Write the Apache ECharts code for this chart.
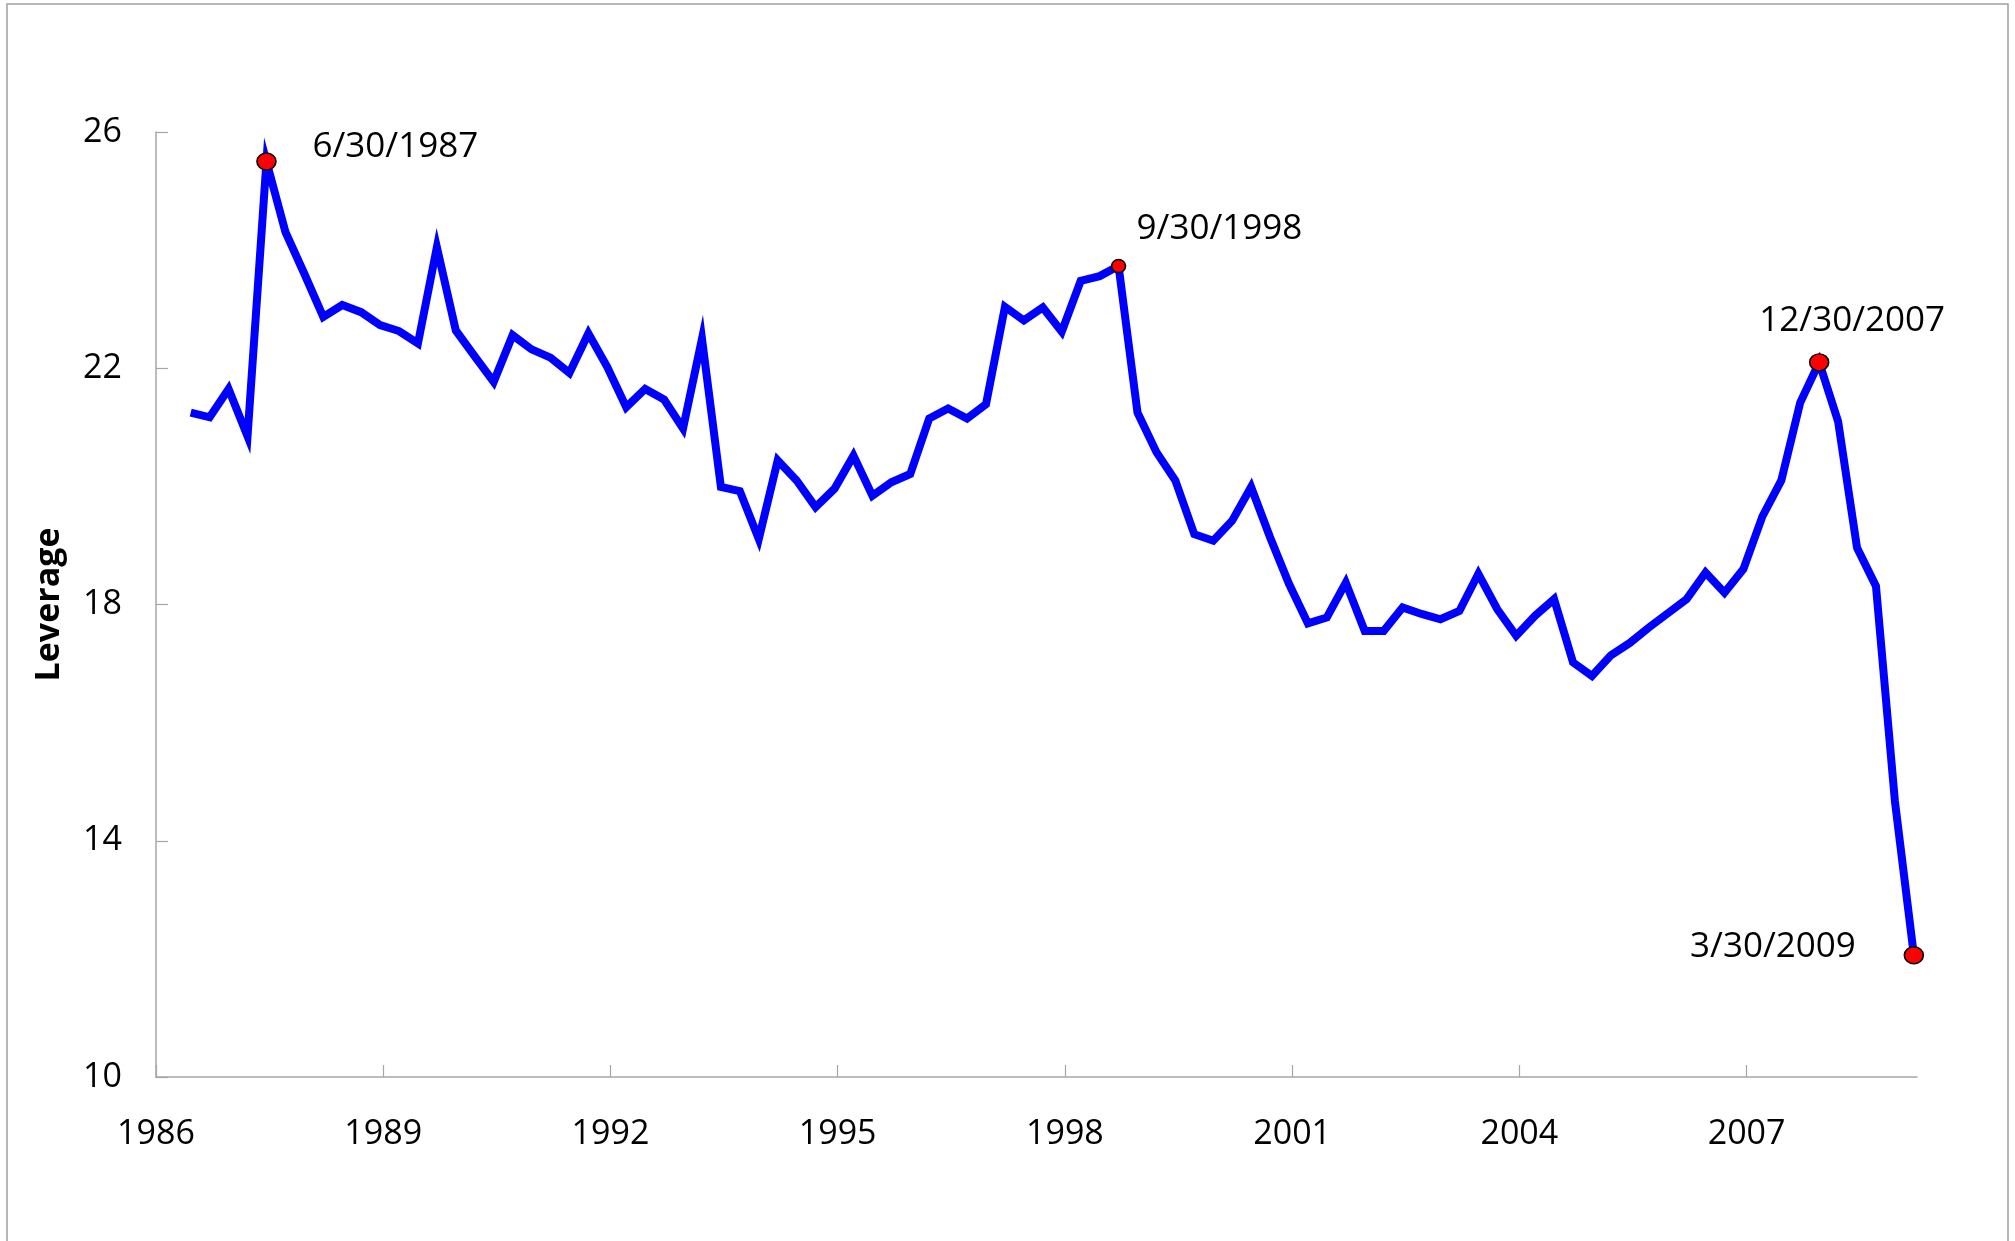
<!DOCTYPE html>
<html>
<head>
<meta charset="utf-8">
<script src="https://cdn.jsdelivr.net/npm/echarts@6/dist/echarts.min.js"></script>
<style>
html,body{margin:0;padding:0;background:#fff;}
#chart{width:2015px;height:1241px;}
</style>
</head>
<body>
<div id="chart"></div>
<script>
// Quarter-end observations, 6/30/1986 .. 3/30/2009
const quarters = [
 '1986Q2','1986Q3','1986Q4',
 '1987Q1','1987Q2','1987Q3','1987Q4',
 '1988Q1','1988Q2','1988Q3','1988Q4',
 '1989Q1','1989Q2','1989Q3','1989Q4',
 '1990Q1','1990Q2','1990Q3','1990Q4',
 '1991Q1','1991Q2','1991Q3','1991Q4',
 '1992Q1','1992Q2','1992Q3','1992Q4',
 '1993Q1','1993Q2','1993Q3','1993Q4',
 '1994Q1','1994Q2','1994Q3','1994Q4',
 '1995Q1','1995Q2','1995Q3','1995Q4',
 '1996Q1','1996Q2','1996Q3','1996Q4',
 '1997Q1','1997Q2','1997Q3','1997Q4',
 '1998Q1','1998Q2','1998Q3','1998Q4',
 '1999Q1','1999Q2','1999Q3','1999Q4',
 '2000Q1','2000Q2','2000Q3','2000Q4',
 '2001Q1','2001Q2','2001Q3','2001Q4',
 '2002Q1','2002Q2','2002Q3','2002Q4',
 '2003Q1','2003Q2','2003Q3','2003Q4',
 '2004Q1','2004Q2','2004Q3','2004Q4',
 '2005Q1','2005Q2','2005Q3','2005Q4',
 '2006Q1','2006Q2','2006Q3','2006Q4',
 '2007Q1','2007Q2','2007Q3','2007Q4',
 '2008Q1','2008Q2','2008Q3','2008Q4',
 '2009Q1'
];

const leverage = [
 21.25, 21.17, 21.65,
 20.85, 25.50, 24.31, 23.60,
 22.87, 23.07, 22.95, 22.73,
 22.63, 22.42, 24.05, 22.64,
 22.20, 21.77, 22.56, 22.32,
 22.18, 21.92, 22.59, 22.02,
 21.34, 21.65, 21.47, 20.98,
 22.50, 19.99, 19.92, 19.11,
 20.44, 20.10, 19.65, 19.96,
 20.52, 19.84, 20.07, 20.21,
 21.15, 21.32, 21.15, 21.39,
 23.04, 22.81, 23.03, 22.62,
 23.48, 23.56, 23.73, 21.25,
 20.58, 20.10, 19.19, 19.08,
 19.42, 19.99, 19.14, 18.35,
 17.68, 17.78, 18.37, 17.55,
 17.55, 17.95, 17.84, 17.75,
 17.89, 18.52, 17.92, 17.47,
 17.81, 18.09, 17.02, 16.79,
 17.14, 17.35, 17.61, 17.85,
 18.09, 18.54, 18.20, 18.60,
 19.49, 20.10, 21.42, 22.10,
 21.10, 18.96, 18.31, 14.67,
 12.06
];

const highlightQuarters = ['1987Q2', '1998Q3', '2007Q4', '2009Q1'];
const highlightLabels   = ['6/30/1987', '9/30/1998', '12/30/2007', '3/30/2009'];

const xTickYears = [1986, 1989, 1992, 1995, 1998, 2001, 2004, 2007];
const yTicks = [10, 14, 18, 22, 26];
const yAxisName = 'Leverage';

// quarter -> position on a monthly date axis (middle of the quarter-end month)
function quarterPos(q) {
  const y = parseInt(q.slice(0, 4), 10);
  const n = parseInt(q.slice(5), 10);
  return y + (n * 3 - 0.5) / 12;
}

const lineData = quarters.map((q, i) => [quarterPos(q), leverage[i]]);

const labelStyles = [
  { align: 'left',   offset: [46, -15], size: [19, 17] },
  { align: 'left',   offset: [18, -37], size: [14, 13] },
  { align: 'center', offset: [33, -41], size: [19, 17] },
  { align: 'right',  offset: [-58, -8], size: [19, 17] }
];

const markData = highlightQuarters.map((q, k) => {
  const i = quarters.indexOf(q);
  const st = labelStyles[k];
  return {
    value: [quarterPos(q), leverage[i]],
    symbolSize: st.size,
    label: {
      show: true,
      formatter: highlightLabels[k],
      position: 'inside',
      align: st.align,
      verticalAlign: 'middle',
      offset: st.offset
    }
  };
});

const FONT = '"Open Sans", "Liberation Sans", sans-serif';
const axisGray = '#a6a6a6';

const chart = echarts.init(document.getElementById('chart'), null, { renderer: 'canvas' });
chart.setOption({
  animation: false,
  backgroundColor: '#ffffff',
  graphic: [{
    type: 'rect',
    shape: { x: 7, y: 4, width: 2001, height: 1300 },
    style: { fill: 'none', stroke: '#a0a0a0', lineWidth: 1.5 },
    silent: true,
    z: -10
  }],
  grid: { left: 156, right: 98, top: 132, bottom: 164, containLabel: false },
  xAxis: {
    type: 'value',
    min: 1986,
    max: 2009.25,
    axisLine: { show: true, lineStyle: { color: axisGray, width: 1.5 } },
    axisTick: { show: true, inside: true, length: 12, customValues: xTickYears, lineStyle: { color: axisGray, width: 1.2 } },
    axisLabel: {
      customValues: xTickYears,
      formatter: v => String(Math.round(v)),
      margin: 40,
      color: '#000',
      fontFamily: FONT,
      fontSize: 34
    },
    splitLine: { show: false }
  },
  yAxis: {
    type: 'value',
    min: yTicks[0],
    max: yTicks[yTicks.length - 1],
    interval: 4,
    name: yAxisName,
    nameLocation: 'middle',
    nameGap: 90,
    nameTextStyle: { color: '#000', fontFamily: FONT, fontWeight: 'bold', fontSize: 34 },
    axisLine: { show: true, lineStyle: { color: axisGray, width: 1.5 } },
    axisTick: { show: true, inside: true, length: 12, lineStyle: { color: axisGray, width: 1.2 } },
    axisLabel: { margin: 34, color: '#000', fontFamily: FONT, fontSize: 34, padding: [8, 0, 0, 0] },
    splitLine: { show: false }
  },
  series: [
    {
      type: 'line',
      data: lineData,
      showSymbol: false,
      symbol: 'none',
      lineStyle: { color: '#0000ff', width: 8, join: 'miter', miterLimit: 10 },
      z: 2
    },
    {
      type: 'scatter',
      data: markData,
      symbol: 'circle',
      itemStyle: { color: '#ff0000', borderColor: '#000000', borderWidth: 1.5, opacity: 1 },
      label: { color: '#000', fontFamily: FONT, fontSize: 35 },
      z: 3
    }
  ]
});
</script>
</body>
</html>
